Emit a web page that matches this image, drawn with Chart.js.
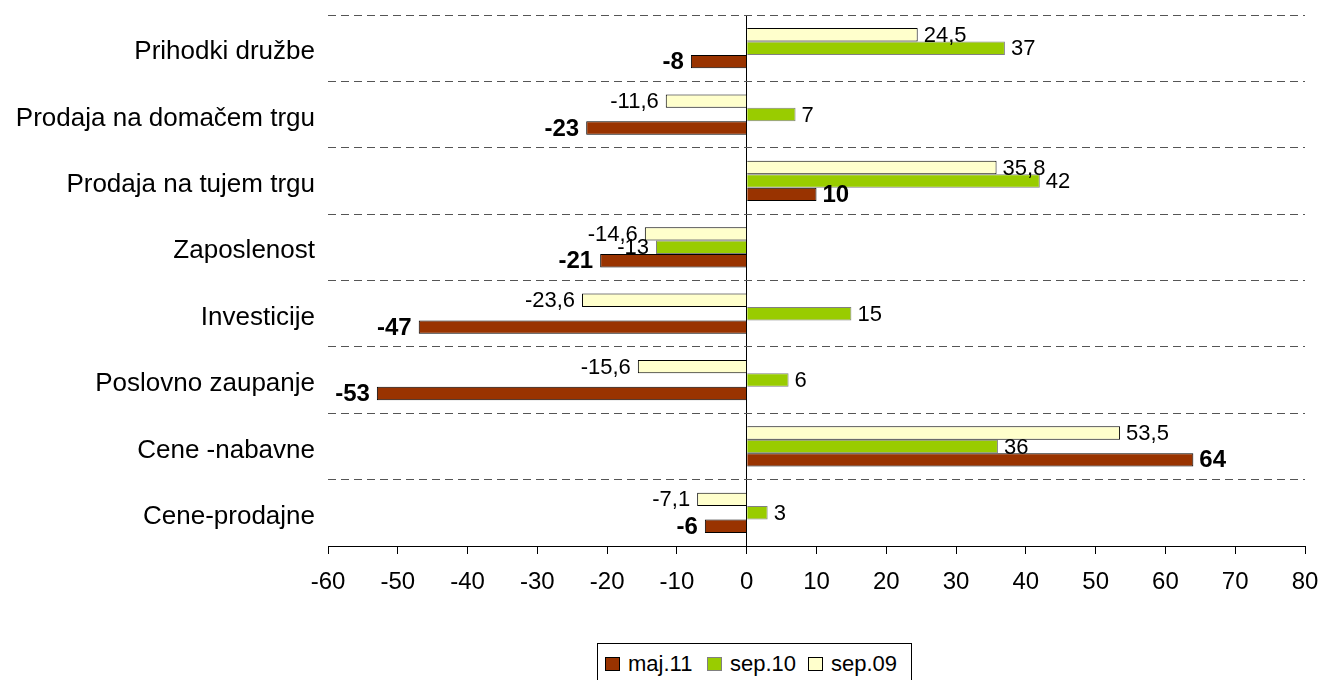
<!DOCTYPE html>
<html>
<head>
<meta charset="utf-8">
<script src="https://cdn.jsdelivr.net/npm/chart.js@4/dist/chart.umd.min.js"></script>
<style>
  body { margin: 0; background: #fff; }
  #wrap { position: relative; width: 1322px; height: 680px; }
  #legend {
    position: absolute; left: 597px; top: 643px; width: 315px; height: 44px;
    border: 1px solid #000; box-sizing: border-box; background: #fff;
    font-family: "Liberation Sans", Arial, sans-serif; font-size: 22px; color: #000;
  }
  #legend span.sw { position: absolute; top: 13px; width: 13px; height: 12px; border: 1px solid #000; }
  #legend span.tx { position: absolute; top: 7px; line-height: 26px; }
</style>
</head>
<body>
<div id="wrap">
  <canvas id="myChart" width="1322" height="680"></canvas>
  <div id="legend">
    <span class="sw" style="left:7px;background:#993300;border-color:#000"></span><span class="tx" style="left:30px">maj.11</span>
    <span class="sw" style="left:109px;background:#99CC00;border-color:#808080"></span><span class="tx" style="left:132px">sep.10</span>
    <span class="sw" style="left:210px;background:#FFFFCC;border-color:#000"></span><span class="tx" style="left:233px">sep.09</span>
  </div>
</div>
<script>
var categories = ['Prihodki družbe', 'Prodaja na domačem trgu', 'Prodaja na tujem trgu', 'Zaposlenost',
                  'Investicije', 'Poslovno zaupanje', 'Cene -nabavne', 'Cene-prodajne'];
var sep09 = [24.5, -11.6, 35.8, -14.6, -23.6, -15.6, 53.5, -7.1];
var sep10 = [37, 7, 42, -13, 15, 6, 36, 3];
var maj11 = [-8, -23, 10, -21, -47, -53, 64, -6];
var xTicks = [-60, -50, -40, -30, -20, -10, 0, 10, 20, 30, 40, 50, 60, 70, 80];

var fontName = '"Liberation Sans", Arial, sans-serif';

// value labels next to the bar ends
var valueLabels = {
    id: 'valueLabels',
    afterDatasetsDraw: function (chart) {
        var ctx = chart.ctx;
        ctx.save();
        ctx.fillStyle = '#000';
        ctx.textBaseline = 'middle';
        chart.data.datasets.forEach(function (ds, i) {
            var meta = chart.getDatasetMeta(i);
            var bold = ds.label === 'maj.11';
            ctx.font = (bold ? 'bold 24px ' : '22px ') + fontName;
            meta.data.forEach(function (bar, j) {
                var v = ds.data[j];
                var txt = String(v).replace('.', ',');
                if (v >= 0) {
                    ctx.textAlign = 'left';
                    ctx.fillText(txt, bar.x + 6, bar.y + 1);
                } else {
                    ctx.textAlign = 'right';
                    ctx.fillText(txt, bar.x - 7, bar.y + 1);
                }
            });
        });
        ctx.restore();
    }
};

var ctx = document.getElementById('myChart').getContext('2d');
var myChart = new Chart(ctx, {
    type: 'bar',
    data: {
        labels: categories,
        datasets: [{
            label: 'sep.09',
            data: sep09,
            backgroundColor: '#FFFFCC',
            borderColor: '#000000',
            borderWidth: 1
        }, {
            label: 'sep.10',
            data: sep10,
            backgroundColor: '#99CC00',
            borderColor: '#808080',
            borderWidth: 1
        }, {
            label: 'maj.11',
            data: maj11,
            backgroundColor: '#993300',
            borderColor: '#000000',
            borderWidth: 1
        }]
    },
    options: {
        indexAxis: 'y',
        responsive: false,
        animation: false,
        categoryPercentage: 0.607,
        barPercentage: 1.0,
        layout: { padding: { top: 15, right: 17, bottom: 0, left: 0 } },
        plugins: {
            legend: { display: false },
            tooltip: { enabled: false }
        },
        scales: {
            x: {
                min: -60,
                max: 80,
                afterBuildTicks: function (scale) {
                    scale.ticks = xTicks.map(function (v) { return { value: v }; });
                },
                afterFit: function (scale) {
                    scale.height = 134;
                    scale.paddingLeft = 0;
                    scale.paddingRight = 0;
                },
                grid: {
                    color: function (c) { return c.tick && c.tick.value === 0 ? '#000' : 'rgba(0,0,0,0)'; },
                    tickColor: '#000',
                    tickLength: 8,
                    lineWidth: 1
                },
                border: { display: true, color: '#000', width: 1 },
                ticks: {
                    color: '#000',
                    padding: 14,
                    font: { family: fontName, size: 24 }
                }
            },
            y: {
                afterFit: function (scale) {
                    scale.width = 328;
                    scale.paddingTop = 0;
                    scale.paddingBottom = 0;
                },
                grid: {
                    offset: true,
                    color: '#555',
                    lineWidth: 1,
                    drawTicks: false
                },
                border: { display: false, dash: [8, 5] },
                ticks: {
                    color: '#000',
                    padding: 13,
                    labelOffset: 4,
                    font: { family: fontName, size: 26 }
                }
            }
        }
    },
    plugins: [valueLabels]
});
</script>
</body>
</html>
